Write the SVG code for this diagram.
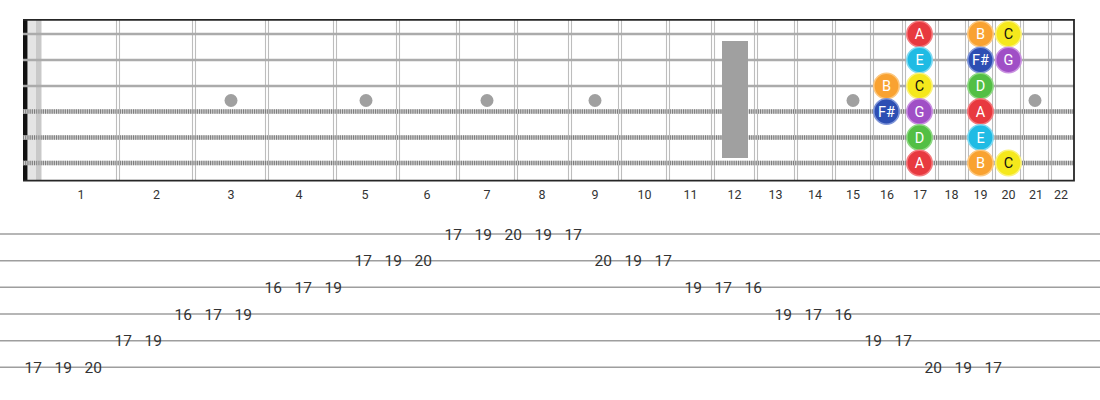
<svg xmlns="http://www.w3.org/2000/svg" width="1100" height="400" viewBox="0 0 1100 400">
<style>
.fret{stroke:#bdbdbd;stroke-width:1.1;fill:none}
.plain{stroke:#ababab;stroke-width:2.6}
.woundb{stroke:#d4d4d4;stroke-width:4.5}
.woundt{stroke:#7d7d7d;stroke-width:4.5;stroke-dasharray:1.1 1.1}
.inlay{fill:#a0a0a0}
.fn{font-family:Roboto,"Liberation Sans",sans-serif;font-size:12.5px;fill:#333;text-anchor:middle}
.tabl{stroke:#9e9e9e;stroke-width:1.6}
.tn{font-family:Roboto,"Liberation Sans",sans-serif;font-size:15.5px;fill:#333;text-anchor:middle}
.nt{font-family:Roboto,"Liberation Sans",sans-serif;font-size:14.5px;fill:#fff;text-anchor:middle}
.dk{fill:#111}
.note circle{stroke-width:1.6}
.A{fill:#e8393f;stroke:#f47a7e}
.B{fill:#f9a231;stroke:#fcc77f}
.C{fill:#f5e81c;stroke:#fbf27a}
.D{fill:#53bf44;stroke:#8fd884}
.E{fill:#1fbbe4;stroke:#7fd9f1}
.Fs{fill:#2d4eb3;stroke:#7f95d8}
.G{fill:#a04fc6;stroke:#c991e0}
</style>
<rect width="1100" height="400" fill="#fff"/>
<g id="fretboard">
<rect x="28" y="20" width="8" height="160" fill="#e4e4e4"/>
<rect x="36" y="20" width="5.5" height="160" fill="#c9c9c9"/>
<g id="frets">
<path class="fret" d="M116.5 20V180M119.5 20V180M192.5 20V180M195.5 20V180M265.5 20V180M268.5 20V180M333.5 20V180M336.5 20V180M396.5 20V180M399.5 20V180M456.5 20V180M459.5 20V180M514.5 20V180M517.5 20V180M568.5 20V180M571.5 20V180M618.5 20V180M621.5 20V180M666.5 20V180M669.5 20V180M711.5 20V180M714.5 20V180M754.5 20V180M757.5 20V180M794.5 20V180M797.5 20V180M832.5 20V180M835.5 20V180M870.5 20V180M873.5 20V180M902.5 20V180M905.5 20V180M935.5 20V180M938.5 20V180M965.5 20V180M968.5 20V180M992.5 20V180M995.5 20V180M1020.5 20V180M1023.5 20V180M1048.5 20V180M1051.5 20V180"/>
</g>
<g id="inlays">
<circle class="inlay" cx="231" cy="100.5" r="6.5"/>
<circle class="inlay" cx="366" cy="100.5" r="6.5"/>
<circle class="inlay" cx="487" cy="100.5" r="6.5"/>
<circle class="inlay" cx="595" cy="100.5" r="6.5"/>
<circle class="inlay" cx="853" cy="100.5" r="6.5"/>
<circle class="inlay" cx="1035" cy="100.5" r="6.5"/>
</g>
<rect x="23" y="19" width="4.5" height="162" fill="#111"/>
<g id="strings">
<line class="plain" x1="23" y1="34" x2="1074" y2="34"/>
<line class="plain" x1="23" y1="60" x2="1074" y2="60"/>
<line class="plain" x1="23" y1="86" x2="1074" y2="86"/>
<line class="woundb" x1="23" y1="111.5" x2="1074" y2="111.5"/>
<line class="woundt" x1="23" y1="111.5" x2="1074" y2="111.5"/>
<line class="woundb" x1="23" y1="137.5" x2="1074" y2="137.5"/>
<line class="woundt" x1="23" y1="137.5" x2="1074" y2="137.5"/>
<line class="woundb" x1="23" y1="163" x2="1074" y2="163"/>
<line class="woundt" x1="23" y1="163" x2="1074" y2="163"/>
</g>
<rect id="inlay12" x="722" y="41" width="26" height="117" fill="#a0a0a0"/>
<path d="M23 19.8H1074.5M23 180.6H1074.5M1074 19V181.5" stroke="#262626" stroke-width="1.8" fill="none"/>
</g>
<g id="fret-numbers">
<text class="fn" x="81" y="198.5">1</text>
<text class="fn" x="156.5" y="198.5">2</text>
<text class="fn" x="231" y="198.5">3</text>
<text class="fn" x="299" y="198.5">4</text>
<text class="fn" x="365" y="198.5">5</text>
<text class="fn" x="427" y="198.5">6</text>
<text class="fn" x="487" y="198.5">7</text>
<text class="fn" x="542" y="198.5">8</text>
<text class="fn" x="595" y="198.5">9</text>
<text class="fn" x="644.5" y="198.5">10</text>
<text class="fn" x="690.5" y="198.5">11</text>
<text class="fn" x="734.5" y="198.5">12</text>
<text class="fn" x="775.5" y="198.5">13</text>
<text class="fn" x="815" y="198.5">14</text>
<text class="fn" x="853" y="198.5">15</text>
<text class="fn" x="887" y="198.5">16</text>
<text class="fn" x="920" y="198.5">17</text>
<text class="fn" x="951.5" y="198.5">18</text>
<text class="fn" x="980.5" y="198.5">19</text>
<text class="fn" x="1008.5" y="198.5">20</text>
<text class="fn" x="1036" y="198.5">21</text>
<text class="fn" x="1061" y="198.5">22</text>
</g>
<g id="notes">
<g id="n1-17" class="note"><circle class="A" cx="919.5" cy="34" r="12.7"/><text class="nt" x="919.5" y="39.2">A</text></g>
<g id="n1-19" class="note"><circle class="B" cx="980.5" cy="34" r="12.7"/><text class="nt" x="980.5" y="39.2">B</text></g>
<g id="n1-20" class="note"><circle class="C" cx="1008.5" cy="34" r="12.7"/><text class="nt dk" x="1008.5" y="39.2">C</text></g>
<g id="n2-17" class="note"><circle class="E" cx="919.5" cy="60" r="12.7"/><text class="nt" x="919.5" y="65.2">E</text></g>
<g id="n2-19" class="note"><circle class="Fs" cx="980.5" cy="60" r="12.7"/><text class="nt" x="980.5" y="65.2">F#</text></g>
<g id="n2-20" class="note"><circle class="G" cx="1008.5" cy="60" r="12.7"/><text class="nt" x="1008.5" y="65.2">G</text></g>
<g id="n3-16" class="note"><circle class="B" cx="886.5" cy="86" r="12.7"/><text class="nt" x="886.5" y="91.2">B</text></g>
<g id="n3-17" class="note"><circle class="C" cx="919.5" cy="86" r="12.7"/><text class="nt dk" x="919.5" y="91.2">C</text></g>
<g id="n3-19" class="note"><circle class="D" cx="980.5" cy="86" r="12.7"/><text class="nt" x="980.5" y="91.2">D</text></g>
<g id="n4-16" class="note"><circle class="Fs" cx="886.5" cy="111.5" r="12.7"/><text class="nt" x="886.5" y="116.7">F#</text></g>
<g id="n4-17" class="note"><circle class="G" cx="919.5" cy="111.5" r="12.7"/><text class="nt" x="919.5" y="116.7">G</text></g>
<g id="n4-19" class="note"><circle class="A" cx="980.5" cy="111.5" r="12.7"/><text class="nt" x="980.5" y="116.7">A</text></g>
<g id="n5-17" class="note"><circle class="D" cx="919.5" cy="137.5" r="12.7"/><text class="nt" x="919.5" y="142.7">D</text></g>
<g id="n5-19" class="note"><circle class="E" cx="980.5" cy="137.5" r="12.7"/><text class="nt" x="980.5" y="142.7">E</text></g>
<g id="n6-17" class="note"><circle class="A" cx="919.5" cy="163" r="12.7"/><text class="nt" x="919.5" y="168.2">A</text></g>
<g id="n6-19" class="note"><circle class="B" cx="980.5" cy="163" r="12.7"/><text class="nt" x="980.5" y="168.2">B</text></g>
<g id="n6-20" class="note"><circle class="C" cx="1008.5" cy="163" r="12.7"/><text class="nt dk" x="1008.5" y="168.2">C</text></g>
</g>
<g id="tab-lines">
<line class="tabl" x1="0" y1="234" x2="1100" y2="234"/>
<line class="tabl" x1="0" y1="260.7" x2="1100" y2="260.7"/>
<line class="tabl" x1="0" y1="287.3" x2="1100" y2="287.3"/>
<line class="tabl" x1="0" y1="314" x2="1100" y2="314"/>
<line class="tabl" x1="0" y1="340.7" x2="1100" y2="340.7"/>
<line class="tabl" x1="0" y1="367.3" x2="1100" y2="367.3"/>
</g>
<g id="tab-numbers">
<g id="tab1"><text class="tn" x="453.3" y="239.6">17</text><text class="tn" x="483.3" y="239.6">19</text><text class="tn" x="513.3" y="239.6">20</text><text class="tn" x="543.3" y="239.6">19</text><text class="tn" x="573.3" y="239.6">17</text></g>
<g id="tab2"><text class="tn" x="363.3" y="266.3">17</text><text class="tn" x="393.3" y="266.3">19</text><text class="tn" x="423.3" y="266.3">20</text><text class="tn" x="603.3" y="266.3">20</text><text class="tn" x="633.3" y="266.3">19</text><text class="tn" x="663.3" y="266.3">17</text></g>
<g id="tab3"><text class="tn" x="273.3" y="292.9">16</text><text class="tn" x="303.3" y="292.9">17</text><text class="tn" x="333.3" y="292.9">19</text><text class="tn" x="693.3" y="292.9">19</text><text class="tn" x="723.3" y="292.9">17</text><text class="tn" x="753.3" y="292.9">16</text></g>
<g id="tab4"><text class="tn" x="183.3" y="319.6">16</text><text class="tn" x="213.3" y="319.6">17</text><text class="tn" x="243.3" y="319.6">19</text><text class="tn" x="783.3" y="319.6">19</text><text class="tn" x="813.3" y="319.6">17</text><text class="tn" x="843.3" y="319.6">16</text></g>
<g id="tab5"><text class="tn" x="123.3" y="346.3">17</text><text class="tn" x="153.3" y="346.3">19</text><text class="tn" x="873.3" y="346.3">19</text><text class="tn" x="903.3" y="346.3">17</text></g>
<g id="tab6"><text class="tn" x="33.3" y="372.9">17</text><text class="tn" x="63.3" y="372.9">19</text><text class="tn" x="93.3" y="372.9">20</text><text class="tn" x="933.3" y="372.9">20</text><text class="tn" x="963.3" y="372.9">19</text><text class="tn" x="993.3" y="372.9">17</text></g>
</g>
</svg>
